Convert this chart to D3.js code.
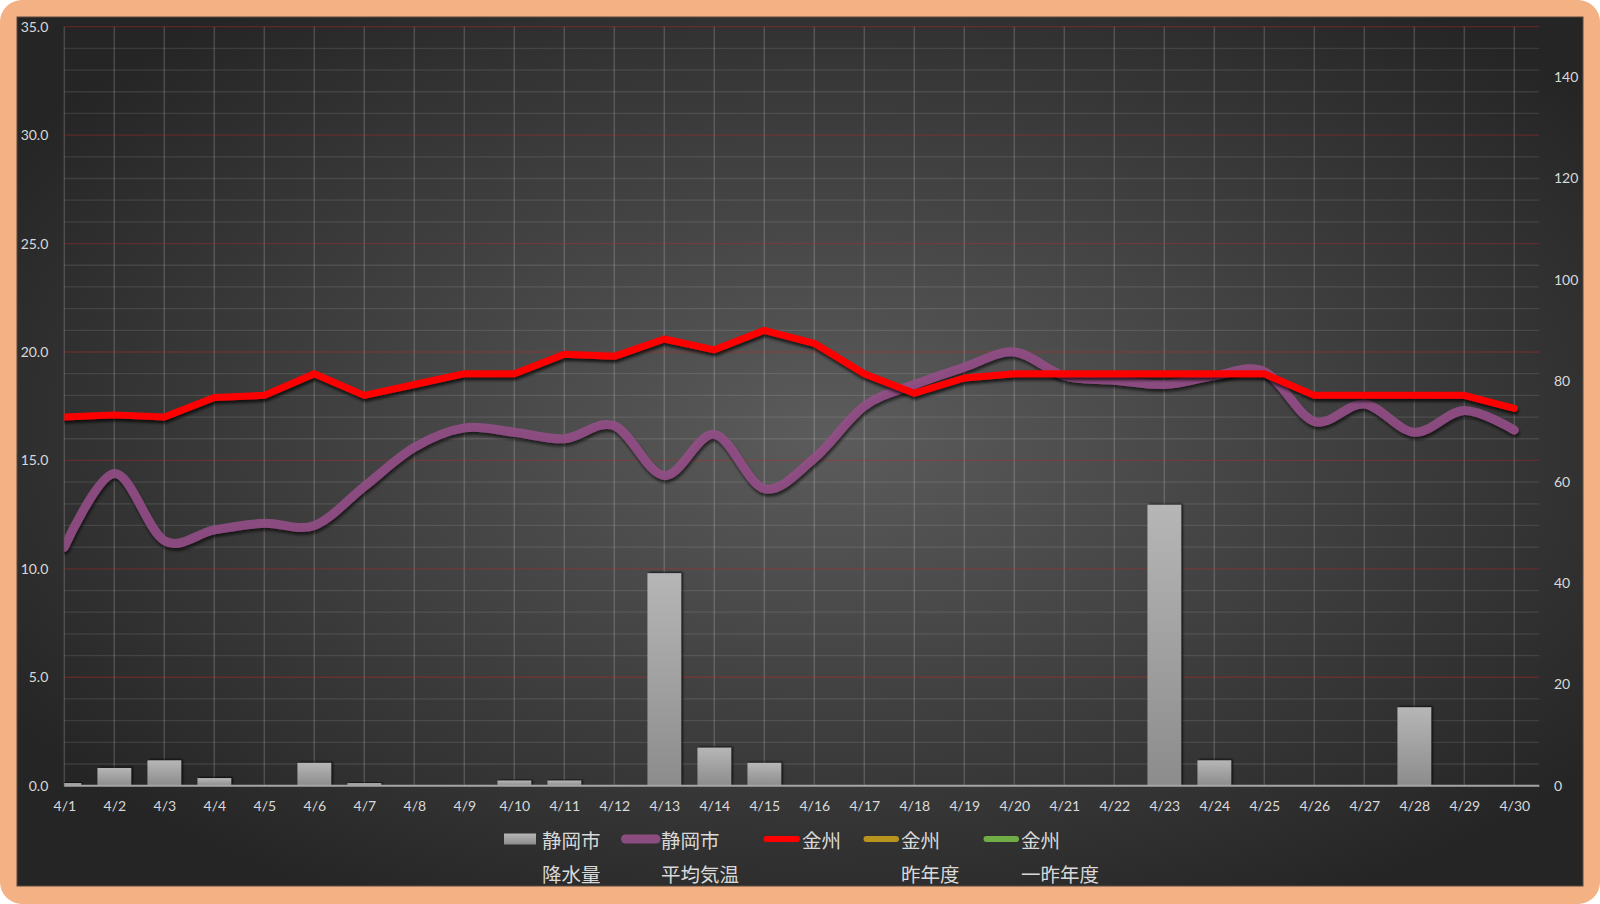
<!DOCTYPE html>
<html>
<head>
<meta charset="utf-8">
<script src="https://cdn.jsdelivr.net/npm/d3@7"></script>
<style>
  html, body { margin: 0; padding: 0; background: #ffffff; }
  svg { display: block; }
  .axis text { font-family: Lato, "Noto Sans", sans-serif; font-size: 14px; fill: #d9d9d9; }
  .axis path.domain { display: none; }
  .legend text { font-family: "Noto Sans CJK JP", "Noto Sans", sans-serif; font-size: 19.5px; fill: #d9d9d9; }
</style>
</head>
<body>
<svg id="chart" width="1600" height="904"></svg>
<script>
// ---------- data ----------
const categories = ["4/1","4/2","4/3","4/4","4/5","4/6","4/7","4/8","4/9","4/10",
  "4/11","4/12","4/13","4/14","4/15","4/16","4/17","4/18","4/19","4/20",
  "4/21","4/22","4/23","4/24","4/25","4/26","4/27","4/28","4/29","4/30"];

// 静岡市 降水量 (mm, right axis)
const rainShizuoka = [0.5, 3.5, 5.0, 1.5, 0, 4.5, 0.5, 0, 0, 1.0,
  1.0, 0, 42.0, 7.5, 4.5, 0, 0, 0, 0, 0,
  0, 0, 55.5, 5.0, 0, 0, 0, 15.5, 0, 0];

// 静岡市 平均気温 (left axis)
const tempShizuoka = [11.0, 14.4, 11.3, 11.8, 12.1, 12.0, 13.8, 15.6, 16.5, 16.3,
  16.0, 16.6, 14.3, 16.2, 13.7, 15.1, 17.5, 18.5, 19.3, 20.0,
  18.9, 18.7, 18.5, 18.9, 19.1, 16.8, 17.6, 16.3, 17.3, 16.4];

// 金州 (left axis)
const kinshu = [17.0, 17.1, 17.0, 17.9, 18.0, 19.0, 18.0, 18.5, 19.0, 19.0,
  19.9, 19.8, 20.6, 20.1, 21.0, 20.4, 19.0, 18.1, 18.8, 19.0,
  19.0, 19.0, 19.0, 19.0, 19.0, 18.0, 18.0, 18.0, 18.0, 17.4];

// 金州 昨年度 / 一昨年度 : no plotted values
const kinshuLastYear = [];
const kinshuTwoYearsAgo = [];

const leftTicks = [0, 5, 10, 15, 20, 25, 30, 35];
const rightTicks = [0, 20, 40, 60, 80, 100, 120, 140];

const legendItems = [
  { type: "bar",  color: "#a8a8a8", lines: ["静岡市", "降水量"] },
  { type: "line", color: "#96508a", lines: ["静岡市", "平均気温"] },
  { type: "line", color: "#ff0000", lines: ["金州"] },
  { type: "line", color: "#b8941f", lines: ["金州", "昨年度"] },
  { type: "line", color: "#70ad47", lines: ["金州", "一昨年度"] }
];

// ---------- layout ----------
const svg = d3.select("#chart");
const W = 1600, H = 904;
const plot = { left: 64.3, right: 1539.3, top: 26.7, bottom: 785.7 };

const defs = svg.append("defs");
const bgGrad = defs.append("radialGradient").attr("id", "bgGrad")
  .attr("cx", "52%").attr("cy", "48%").attr("r", "62%");
bgGrad.append("stop").attr("offset", "0%").attr("stop-color", "#5c5c5c");
bgGrad.append("stop").attr("offset", "100%").attr("stop-color", "#252525");

const barGrad = defs.append("linearGradient").attr("id", "barGrad")
  .attr("x1", 0).attr("y1", 0).attr("x2", 0).attr("y2", 1);
barGrad.append("stop").attr("offset", "0%").attr("stop-color", "#b6b6b6");
barGrad.append("stop").attr("offset", "100%").attr("stop-color", "#8c8c8c");

const shadow = defs.append("filter").attr("id", "shadow")
  .attr("x", "-5%").attr("y", "-20%").attr("width", "110%").attr("height", "140%");
shadow.append("feDropShadow").attr("dx", 1).attr("dy", 3).attr("stdDeviation", 1.8)
  .attr("flood-color", "#000").attr("flood-opacity", 0.7);

const barShadow = defs.append("filter").attr("id", "barShadow")
  .attr("x", "-20%").attr("y", "-20%").attr("width", "140%").attr("height", "140%");
barShadow.append("feDropShadow").attr("dx", 1.5).attr("dy", -1).attr("stdDeviation", 0.8)
  .attr("flood-color", "#000").attr("flood-opacity", 0.8);

defs.append("clipPath").attr("id", "plotClip").append("rect")
  .attr("x", plot.left).attr("y", plot.top - 10)
  .attr("width", plot.right - plot.left).attr("height", plot.bottom - plot.top + 10);

// outer orange frame
svg.append("rect").attr("x", 0).attr("y", 0).attr("width", W).attr("height", H)
  .attr("rx", 22).attr("fill", "#f4b183");
// chart background
svg.append("rect").attr("x", 17).attr("y", 17).attr("width", 1566).attr("height", 869)
  .attr("fill", "url(#bgGrad)").attr("stroke", "#5a4a40").attr("stroke-width", 1);

// ---------- scales ----------
const x = d3.scaleLinear().domain([0, 29.5]).range([plot.left, plot.right]);
const yL = d3.scaleLinear().domain([0, 35]).range([plot.bottom, plot.top]);
const yR = d3.scaleLinear().domain([0, 150]).range([plot.bottom, plot.top]);

// ---------- gridlines ----------
const grid = svg.append("g");
grid.selectAll("line.minor").data(d3.range(0, 36).filter(v => v % 5 !== 0))
  .join("line").attr("class", "minor")
  .attr("x1", plot.left).attr("x2", plot.right)
  .attr("y1", d => yL(d)).attr("y2", d => yL(d))
  .attr("stroke", "rgba(255,255,255,0.10)").attr("stroke-width", 1.3);
grid.selectAll("line.vert").data(d3.range(categories.length))
  .join("line").attr("class", "vert")
  .attr("x1", d => x(d)).attr("x2", d => x(d))
  .attr("y1", plot.top).attr("y2", plot.bottom)
  .attr("stroke", "rgba(255,255,255,0.17)").attr("stroke-width", 1.5);
grid.selectAll("line.major").data(leftTicks.filter(v => v > 0))
  .join("line").attr("class", "major")
  .attr("x1", plot.left).attr("x2", plot.right)
  .attr("y1", d => yL(d)).attr("y2", d => yL(d))
  .attr("stroke", "rgba(190,40,40,0.35)").attr("stroke-width", 1.3);

// ---------- bars ----------
const barW = 33.7;
svg.append("g").attr("clip-path", "url(#plotClip)")
  .selectAll("rect").data(rainShizuoka.map((v, i) => ({ v, i })).filter(d => d.v > 0))
  .join("rect")
  .attr("x", d => x(d.i) - barW / 2)
  .attr("y", d => yR(d.v))
  .attr("width", barW)
  .attr("height", d => yR(0) - yR(d.v))
  .attr("fill", "url(#barGrad)")
  .attr("filter", "url(#barShadow)");

// x axis baseline
svg.append("line").attr("x1", plot.left).attr("x2", plot.right)
  .attr("y1", plot.bottom).attr("y2", plot.bottom)
  .attr("stroke", "#a6a6a6").attr("stroke-width", 2);

// ---------- lines ----------
const lineGroup = svg.append("g").attr("clip-path", "url(#plotClip)");
const smooth = d3.line().defined(d => d != null)
  .x((d, i) => x(i)).y(d => yL(d)).curve(d3.curveCardinal.tension(0));
const straight = d3.line().defined(d => d != null)
  .x((d, i) => x(i)).y(d => yL(d));

lineGroup.append("path").datum(tempShizuoka)
  .attr("d", smooth).attr("fill", "none")
  .attr("stroke", "#96508a").attr("stroke-opacity", 0.85)
  .attr("stroke-width", 9).attr("stroke-linecap", "round").attr("stroke-linejoin", "round")
  .attr("filter", "url(#shadow)");

lineGroup.append("path").datum(kinshuLastYear)
  .attr("d", straight).attr("fill", "none").attr("stroke", "#b8941f").attr("stroke-width", 6);
lineGroup.append("path").datum(kinshuTwoYearsAgo)
  .attr("d", straight).attr("fill", "none").attr("stroke", "#70ad47").attr("stroke-width", 6);

lineGroup.append("path").datum(kinshu)
  .attr("d", straight).attr("fill", "none")
  .attr("stroke", "#ff0000").attr("stroke-width", 7)
  .attr("stroke-linecap", "round").attr("stroke-linejoin", "round")
  .attr("filter", "url(#shadow)");

// ---------- axes ----------
svg.append("g").attr("class", "axis").attr("transform", `translate(${plot.left},0)`)
  .call(d3.axisLeft(yL).tickValues(leftTicks).tickFormat(d3.format(".1f")).tickSize(0).tickPadding(16));
svg.append("g").attr("class", "axis").attr("transform", `translate(${plot.right},0)`)
  .call(d3.axisRight(yR).tickValues(rightTicks).tickSize(0).tickPadding(14.7));
svg.append("g").attr("class", "axis").attr("transform", `translate(0,${plot.bottom})`)
  .call(d3.axisBottom(x).tickValues(d3.range(categories.length))
    .tickFormat(i => categories[i]).tickSize(0).tickPadding(15));

// ---------- legend ----------
const legendX = [504, 621, 762, 862, 982];
const legendTextX = [542, 661, 802, 901, 1021];
const row1 = 839, row2 = 873;
const lg = svg.append("g").attr("class", "legend");
legendItems.forEach((it, k) => {
  if (it.type === "bar") {
    lg.append("rect").attr("x", legendX[k]).attr("y", row1 - 5.5)
      .attr("width", 32).attr("height", 11).attr("fill", "url(#barGrad)");
  } else {
    lg.append("line").attr("x1", legendX[k] + 4.5).attr("x2", legendTextX[k] - 5)
      .attr("y1", row1).attr("y2", row1)
      .attr("stroke", it.color).attr("stroke-width", it.color === "#96508a" ? 9 : 6)
      .attr("stroke-opacity", it.color === "#96508a" ? 0.9 : 1)
      .attr("stroke-linecap", "round");
  }
  it.lines.forEach((t, j) => {
    lg.append("text").attr("x", legendTextX[k]).attr("y", j === 0 ? row1 : row2)
      .attr("dominant-baseline", "central").text(t);
  });
});
</script>
</body>
</html>
